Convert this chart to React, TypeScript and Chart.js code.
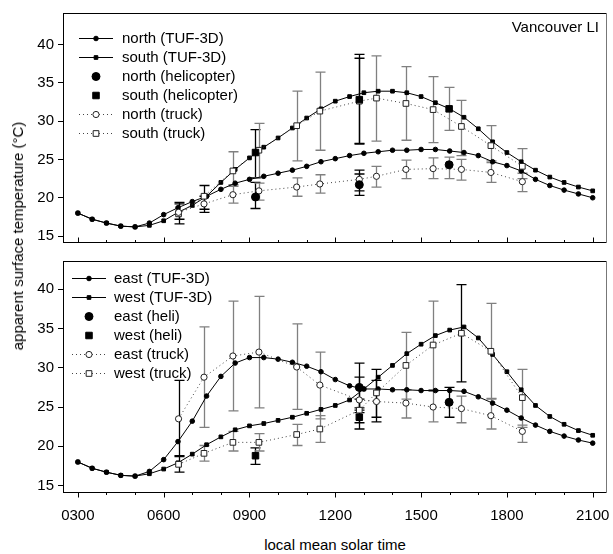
import React, { useEffect, useRef } from 'react';
import { Chart, registerables } from 'chart.js';

Chart.register(...registerables);

const FONT = '"Liberation Sans", Arial, Helvetica, sans-serif';

// ---------- data ----------
const TUF_TIMES = [3.0, 3.5, 4.0, 4.5, 5.0, 5.5, 6.0, 6.5, 7.0, 7.5, 8.0, 8.5, 9.0, 9.5, 10.0, 10.5, 11.0, 11.5, 12.0, 12.5, 13.0, 13.5, 14.0, 14.5, 15.0, 15.5, 16.0, 16.5, 17.0, 17.5, 18.0, 18.5, 19.0, 19.5, 20.0, 20.5, 21.0];

const NORTH_TUF = [18.0, 17.2, 16.7, 16.3, 16.2, 16.7, 17.8, 18.7, 19.5, 20.2, 21.1, 21.9, 22.4, 22.8, 23.2, 23.6, 24.1, 24.7, 25.1, 25.5, 25.8, 26.0, 26.2, 26.2, 26.3, 26.3, 26.1, 25.9, 25.5, 24.7, 24.2, 23.5, 22.4, 21.6, 21.0, 20.5, 20.0];
const SOUTH_TUF = [18.0, 17.2, 16.7, 16.3, 16.2, 16.4, 17.0, 18.1, 19.0, 20.2, 22.0, 23.7, 25.2, 26.6, 27.8, 29.1, 30.4, 31.6, 32.6, 33.2, 33.7, 33.9, 33.9, 33.7, 33.2, 32.4, 31.6, 30.5, 29.0, 27.3, 25.9, 24.7, 23.6, 22.7, 22.0, 21.4, 20.9];
const EAST_TUF = [18.0, 17.2, 16.7, 16.3, 16.2, 16.8, 18.3, 20.6, 23.2, 26.4, 28.9, 30.6, 31.3, 31.3, 31.1, 30.7, 30.2, 29.5, 28.5, 27.7, 27.3, 27.3, 27.2, 27.2, 27.1, 27.1, 27.1, 27.0, 26.3, 25.5, 24.6, 23.6, 22.7, 21.9, 21.3, 20.8, 20.4];
const WEST_TUF = [18.0, 17.2, 16.7, 16.3, 16.2, 16.5, 17.1, 17.9, 19.0, 20.2, 21.2, 22.1, 22.6, 22.9, 23.3, 23.7, 24.2, 24.7, 25.2, 25.9, 27.3, 28.8, 30.3, 31.8, 33.0, 34.1, 34.8, 35.2, 33.8, 31.7, 29.5, 27.2, 25.2, 23.8, 22.8, 22.0, 21.4];

const TRUCK_TIMES = [6.52, 7.41, 8.42, 9.33, 10.65, 11.46, 12.84, 13.44, 14.47, 15.42, 16.41, 17.44, 18.54];

const NORTH_TRUCK = [18.1, 19.2, 20.4, 20.9, 21.4, 21.8, 22.4, 22.8, 23.7, 23.8, 23.7, 23.3, 22.1];
const NORTH_TRUCK_LO = [17.2, 18.5, 19.3, 19.7, 20.2, 20.6, 20.9, 21.4, 22.5, 22.5, 22.3, 22.0, 20.8];
const NORTH_TRUCK_HI = [19.2, 20.2, 21.7, 21.9, 22.6, 23.0, 23.1, 24.1, 24.9, 25.2, 25.0, 24.6, 23.2];

const SOUTH_TRUCK = [17.9, 20.2, 23.5, 26.2, 29.4, 31.3, 32.6, 33.0, 32.3, 31.5, 29.3, 26.8, 24.1];
const SOUTH_TRUCK_LO = [16.6, 18.1, 21.5, 22.6, 24.8, 26.2, 27.0, 27.4, 27.5, 27.2, 25.5, 24.8, 22.5];
const SOUTH_TRUCK_HI = [19.4, 21.6, 26.0, 29.7, 33.9, 36.4, 38.2, 38.5, 37.1, 35.8, 32.7, 29.4, 26.4];

const EAST_TRUCK = [23.5, 28.8, 31.5, 32.0, 30.1, 27.8, 25.9, 25.7, 25.5, 25.0, 24.8, 23.9, 21.9];
const EAST_TRUCK_LO = [18.8, 22.4, 24.5, 24.9, 24.7, 23.5, 24.3, 23.1, 23.6, 23.1, 23.0, 22.2, 20.5];
const EAST_TRUCK_HI = [28.4, 35.2, 38.5, 39.1, 35.6, 32.0, 28.8, 29.8, 27.2, 27.0, 26.4, 26.1, 22.7];

const WEST_TRUCK = [17.7, 19.1, 20.5, 20.5, 21.5, 22.2, 24.6, 26.8, 30.3, 32.9, 34.4, 32.1, 26.2];
const WEST_TRUCK_LO = [16.7, 18.1, 19.4, 19.4, 20.1, 20.5, 23.0, 23.7, 26.0, 27.2, 28.2, 26.0, 22.4];
const WEST_TRUCK_HI = [18.7, 20.1, 21.9, 21.6, 22.8, 23.9, 26.0, 28.4, 34.5, 38.5, 40.6, 38.2, 29.8];

const HELI_TIMES_TOP = [9.21, 12.84, 15.98];
const NORTH_HELI = [20.1, 21.7, 24.3];
const NORTH_HELI_LO = [18.6, 20.3, 22.5];
const NORTH_HELI_HI = [22.0, 23.6, 25.3];
const SOUTH_HELI = [25.9, 32.8, 31.6];
const SOUTH_HELI_LO = [22.6, 27.1, 28.8];
const SOUTH_HELI_HI = [28.9, 38.7, 34.4];

const EAST_HELI_TIMES = [12.84, 15.98];
const EAST_HELI = [27.5, 25.6];
const EAST_HELI_LO = [24.6, 23.7];
const EAST_HELI_HI = [30.6, 27.5];
const WEST_HELI_TIMES = [9.21, 12.84];
const WEST_HELI = [18.8, 23.7];
const WEST_HELI_LO = [17.7, 22.2];
const WEST_HELI_HI = [19.8, 24.9];

const Y_TICKS = [15, 20, 25, 30, 35, 40];
const X_TICK_VALUES = [3, 6, 9, 12, 15, 18, 21];
const X_TICK_LABELS = ['0300', '0600', '0900', '1200', '1500', '1800', '2100'];
const X_MINOR_TICKS = [3, 4, 5, 6, 7, 8, 9, 10, 11, 12, 13, 14, 15, 16, 17, 18, 19, 20, 21];

// error-bar colours (style, per point)
const K = '#000000';
const G = '#808080';
const NORTH_TRUCK_BAR = [K, K, G, G, G, G, K, G, G, G, G, G, G];
const SOUTH_TRUCK_BAR = [K, K, G, G, G, G, K, G, G, G, G, G, G];
const NORTH_HELI_BAR = [K, K, G];
const SOUTH_HELI_BAR = [K, K, G];
const EAST_TRUCK_BAR = [K, G, G, G, G, G, K, K, G, G, G, G, G];
const WEST_TRUCK_BAR = [K, G, G, G, G, G, K, K, G, G, K, G, G];
const EAST_HELI_BAR = [K, K];
const WEST_HELI_BAR = [K, K];

// ---------- helpers ----------
const pts = (xs: number[], ys: number[]) => xs.map((x, i) => ({ x, y: ys[i] }));

function tufDs(label: string, ys: number[], shape: string) {
  return {
    label,
    data: pts(TUF_TIMES, ys),
    showLine: true,
    borderColor: '#000',
    borderWidth: 1,
    pointStyle: shape,
    pointRadius: shape === 'rect' ? 2.6 : 2.3,
    pointBackgroundColor: '#000',
    pointBorderColor: '#000',
    pointBorderWidth: 1,
    order: 3,
  };
}
function heliDs(label: string, xs: number[], ys: number[], lo: number[], hi: number[], colors: string[], shape: string) {
  return {
    label,
    data: pts(xs, ys),
    showLine: false,
    pointStyle: shape,
    pointRadius: shape === 'rect' ? 4.6 : 4.0,
    pointBackgroundColor: '#000',
    pointBorderColor: '#000',
    pointBorderWidth: 1,
    err: { lo, hi, colors },
    order: 0,
  };
}
function truckDs(label: string, ys: number[], lo: number[], hi: number[], colors: string[], shape: string) {
  return {
    label,
    data: pts(TRUCK_TIMES, ys),
    showLine: true,
    borderColor: '#444',
    borderWidth: 1,
    borderDash: [1, 3],
    pointStyle: shape,
    pointRadius: shape === 'rect' ? 4.0 : 3.1,
    pointBackgroundColor: '#fff',
    pointBorderColor: '#222',
    pointBorderWidth: 1,
    err: { lo, hi, colors },
    order: 1,
  };
}

function drawMarker(ctx: CanvasRenderingContext2D, style: string, r: number, x: number, y: number, fill: string, stroke: string, bw: number) {
  ctx.save();
  ctx.setLineDash([]);
  ctx.beginPath();
  if (style === 'rect') {
    const s = r * Math.SQRT1_2;
    ctx.rect(x - s, y - s, 2 * s, 2 * s);
  } else {
    ctx.arc(x, y, r, 0, Math.PI * 2);
  }
  ctx.fillStyle = fill;
  ctx.fill();
  ctx.lineWidth = bw;
  ctx.strokeStyle = stroke;
  ctx.stroke();
  ctx.restore();
}

const errorBarPlugin = {
  id: 'errbars',
  beforeDatasetsDraw(chart: any) {
    const { ctx } = chart;
    const xs = chart.scales.x;
    const ys = chart.scales.y;
    ctx.save();
    chart.data.datasets.forEach((ds: any) => {
      if (!ds.err) return;
      ds.data.forEach((p: any, i: number) => {
        const x = Math.round(xs.getPixelForValue(p.x)) + 0.5;
        const y1 = ys.getPixelForValue(ds.err.lo[i]);
        const y2 = ys.getPixelForValue(ds.err.hi[i]);
        ctx.strokeStyle = ds.err.colors[i];
        ctx.lineWidth = 1.3;
        ctx.setLineDash([]);
        ctx.beginPath();
        ctx.moveTo(x, y1);
        ctx.lineTo(x, y2);
        ctx.moveTo(x - 5, y1);
        ctx.lineTo(x + 5, y1);
        ctx.moveTo(x - 5, y2);
        ctx.lineTo(x + 5, y2);
        ctx.stroke();
      });
    });
    ctx.restore();
  },
};

const decoPlugin = {
  id: 'panelDeco',
  afterDraw(chart: any, _args: any, opts: any) {
    const { ctx, chartArea } = chart;
    const { left, right, top, bottom } = chartArea;
    const xs = chart.scales.x;

    // frame
    ctx.save();
    ctx.setLineDash([]);
    ctx.lineWidth = 1;
    ctx.strokeStyle = '#000';
    ctx.beginPath();
    ctx.moveTo(left, top + 0.5);
    ctx.lineTo(right, top + 0.5);
    ctx.moveTo(left + 0.5, top);
    ctx.lineTo(left + 0.5, bottom);
    ctx.moveTo(left, bottom - 0.5);
    ctx.lineTo(right, bottom - 0.5);
    ctx.stroke();
    ctx.strokeStyle = '#777';
    ctx.beginPath();
    ctx.moveTo(right - 0.5, top);
    ctx.lineTo(right - 0.5, bottom);
    ctx.stroke();

    // x tick marks (major every 3 h, minor every hour)
    ctx.strokeStyle = '#000';
    ctx.beginPath();
    X_MINOR_TICKS.forEach((h) => {
      const x = Math.round(xs.getPixelForValue(h)) + 0.5;
      const len = h % 3 === 0 ? 5 : 2.5;
      const dir = opts.inward ? -1 : 1;
      ctx.moveTo(x, bottom - 0.5);
      ctx.lineTo(x, bottom - 0.5 + dir * len);
    });
    ctx.stroke();

    // x tick labels (bottom panel only)
    ctx.font = `15px ${FONT}`;
    ctx.fillStyle = '#000';
    if (opts.xLabels) {
      ctx.textAlign = 'center';
      ctx.textBaseline = 'middle';
      X_TICK_VALUES.forEach((v, i) => {
        ctx.fillText(X_TICK_LABELS[i], xs.getPixelForValue(v), bottom + 23);
      });
    }
    ctx.restore();

    // legend
    ctx.save();
    ctx.font = `15px ${FONT}`;
    ctx.fillStyle = '#000';
    ctx.textBaseline = 'middle';
    chart.data.datasets.forEach((ds: any, i: number) => {
      const y = Math.round(top + opts.y0 + i * opts.dy) + 0.5;
      const x0 = left + opts.x0;
      const x1 = left + opts.x1;
      const xm = (x0 + x1) / 2;
      if (ds.showLine) {
        ctx.save();
        ctx.strokeStyle = ds.borderColor;
        ctx.lineWidth = 1;
        ctx.setLineDash(ds.borderDash || []);
        ctx.beginPath();
        ctx.moveTo(x0, y);
        ctx.lineTo(x1, y);
        ctx.stroke();
        ctx.restore();
      }
      drawMarker(ctx, ds.pointStyle, ds.pointRadius, xm, y, ds.pointBackgroundColor, ds.pointBorderColor, ds.pointBorderWidth);
      ctx.fillStyle = '#000';
      ctx.textAlign = 'left';
      ctx.fillText(ds.label, left + opts.textX, y);
    });
    if (opts.note) {
      ctx.textAlign = 'right';
      ctx.textBaseline = 'alphabetic';
      ctx.fillText(opts.note, right - 8, top + 19);
    }
    ctx.restore();
  },
};

function makeConfig(datasets: any[], yMin: number, yMax: number, showX: boolean, deco: any, pad: any) {
  const xScale: any = {
    type: 'linear',
    min: 2.48,
    max: 21.5,
    display: showX,
    afterBuildTicks: (s: any) => {
      s.ticks = X_TICK_VALUES.map((v) => ({ value: v }));
    },
    grid: { display: false },
    border: { display: false },
    ticks: { display: false },
  };
  if (showX) {
    xScale.afterFit = (s: any) => {
      s.height = 37;
    };
  }
  return {
    type: 'scatter' as const,
    data: { datasets },
    plugins: [errorBarPlugin, decoPlugin],
    options: {
      responsive: false,
      maintainAspectRatio: false,
      animation: false as const,
      devicePixelRatio: 1,
      layout: { padding: pad },
      plugins: {
        legend: { display: false },
        tooltip: { enabled: false },
        panelDeco: deco,
      },
      scales: {
        x: xScale,
        y: {
          type: 'linear' as const,
          min: yMin,
          max: yMax,
          afterBuildTicks: (s: any) => {
            s.ticks = Y_TICKS.map((v) => ({ value: v }));
          },
          afterFit: (s: any) => {
            s.width = 55;
          },
          grid: { drawOnChartArea: false, drawTicks: true, tickLength: 5, color: '#000', lineWidth: 1 },
          border: { display: false },
          ticks: { padding: 4, color: '#000', font: { family: FONT, size: 15 } },
        },
      },
    },
  };
}

function Panel({ config, style, width, height }: any) {
  const ref = useRef<HTMLCanvasElement>(null);
  useEffect(() => {
    if (!ref.current) return;
    const chart = new Chart(ref.current, config);
    return () => chart.destroy();
  }, [config]);
  return <canvas ref={ref} width={width} height={height} style={{ position: 'absolute', ...style, width, height }} />;
}

const topDatasets = [
  tufDs('north (TUF-3D)', NORTH_TUF, 'circle'),
  tufDs('south (TUF-3D)', SOUTH_TUF, 'rect'),
  heliDs('north (helicopter)', HELI_TIMES_TOP, NORTH_HELI, NORTH_HELI_LO, NORTH_HELI_HI, NORTH_HELI_BAR, 'circle'),
  heliDs('south (helicopter)', HELI_TIMES_TOP, SOUTH_HELI, SOUTH_HELI_LO, SOUTH_HELI_HI, SOUTH_HELI_BAR, 'rect'),
  truckDs('north (truck)', NORTH_TRUCK, NORTH_TRUCK_LO, NORTH_TRUCK_HI, NORTH_TRUCK_BAR, 'circle'),
  truckDs('south (truck)', SOUTH_TRUCK, SOUTH_TRUCK_LO, SOUTH_TRUCK_HI, SOUTH_TRUCK_BAR, 'rect'),
];

const bottomDatasets = [
  tufDs('east (TUF-3D)', EAST_TUF, 'circle'),
  tufDs('west (TUF-3D)', WEST_TUF, 'rect'),
  heliDs('east (heli)', EAST_HELI_TIMES, EAST_HELI, EAST_HELI_LO, EAST_HELI_HI, EAST_HELI_BAR, 'circle'),
  heliDs('west (heli)', WEST_HELI_TIMES, WEST_HELI, WEST_HELI_LO, WEST_HELI_HI, WEST_HELI_BAR, 'rect'),
  truckDs('east (truck)', EAST_TRUCK, EAST_TRUCK_LO, EAST_TRUCK_HI, EAST_TRUCK_BAR, 'circle'),
  truckDs('west (truck)', WEST_TRUCK, WEST_TRUCK_LO, WEST_TRUCK_HI, WEST_TRUCK_BAR, 'rect'),
];

const topConfig = makeConfig(
  topDatasets, 14.1, 44.1, false,
  { inward: true, xLabels: false, x0: 16, x1: 50, textX: 59, y0: 24.5, dy: 19, note: 'Vancouver LI' },
  { left: 8, right: 6, top: 8, bottom: 4 }
);
const bottomConfig = makeConfig(
  bottomDatasets, 14.05, 43.6, true,
  { inward: false, xLabels: true, x0: 9, x1: 43, textX: 51, y0: 16.7, dy: 19 },
  { left: 8, right: 6, top: 4, bottom: 0 }
);

export default function App() {
  return (
    <div style={{ position: 'absolute', left: 0, top: 0, width: 613, height: 554, background: '#fff', overflow: 'hidden' }}>
      <Panel config={topConfig} width={613} height={256} style={{ left: 0, top: 0 }} />
      <Panel config={bottomConfig} width={613} height={282} style={{ left: 0, top: 248 }} />
      <div
        style={{
          position: 'absolute',
          left: 18,
          top: 236,
          transform: 'translate(-50%, -50%) rotate(-90deg)',
          whiteSpace: 'nowrap',
          fontFamily: FONT,
          fontSize: 15,
          color: '#000',
          lineHeight: '18px',
        }}
      >
        apparent surface temperature (°C)
      </div>
      <div
        style={{
          position: 'absolute',
          left: 335,
          top: 545,
          transform: 'translate(-50%, -50%)',
          whiteSpace: 'nowrap',
          fontFamily: FONT,
          fontSize: 15,
          color: '#000',
          lineHeight: '18px',
        }}
      >
        local mean solar time
      </div>
    </div>
  );
}
